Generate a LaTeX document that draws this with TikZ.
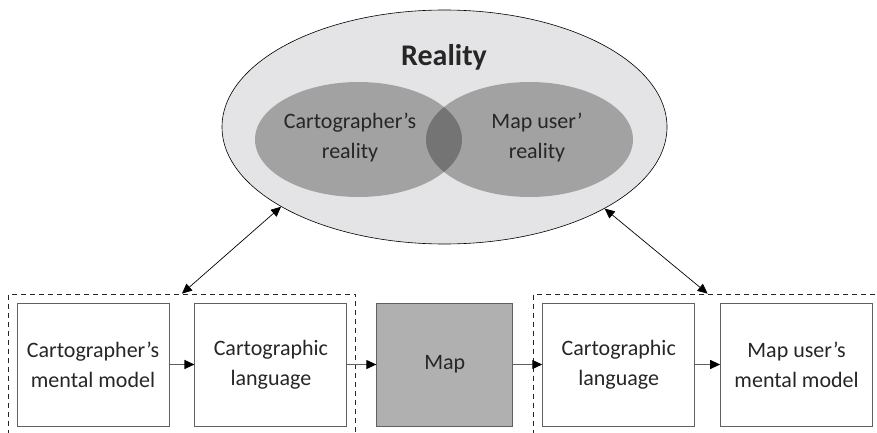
\documentclass[tikz,border=0pt]{standalone}
\usepackage{fontspec}
\setmainfont{Carlito}
\usetikzlibrary{shapes.geometric,arrows.meta,positioning,fit}

\definecolor{outerfill}{HTML}{E4E4E6}
\definecolor{innerfill}{HTML}{A2A2A2}
\definecolor{overlapfill}{HTML}{747474}
\definecolor{mapfill}{HTML}{B0B0B0}
\definecolor{boxline}{HTML}{606060}
\definecolor{textcol}{HTML}{262626}

\begin{document}
\begin{tikzpicture}[
  x=1pt, y=-1pt,
  node distance=25pt and 25pt,
  box/.style={draw=boxline, line width=0.9pt, minimum width=152pt, minimum height=123pt, inner sep=0pt, align=center, text=textcol, font=\fontsize{22}{30}\selectfont},
  lbl/.style={align=center, text=textcol, font=\fontsize{22}{30}\selectfont},
  arr/.style={-{Triangle[length=10pt,width=9pt,color=black]}, draw=boxline, line width=1.1pt},
  dbl/.style={{Triangle[length=10pt,width=9pt]}-{Triangle[length=10pt,width=9pt]}, line width=0.7pt},
  grp/.style={draw=black!85, line width=0.8pt, dash pattern=on 5pt off 4pt, inner sep=8.5pt}
]
  \clip (0,0) rectangle (877,433);

  % reality with the two overlapping views
  \node[ellipse, draw, line width=0.6pt, fill=outerfill, minimum width=445pt, minimum height=234pt, inner sep=0pt] (reality) at (444.5,127) {};
  \fill[innerfill] (358.5,139.5) ellipse [x radius=103.5, y radius=57.5];
  \fill[innerfill] (529.5,139.5) ellipse [x radius=103.5, y radius=57.5];
  \begin{scope}
    \clip (358.5,139.5) ellipse [x radius=103.5, y radius=57.5];
    \fill[overlapfill] (529.5,139.5) ellipse [x radius=103.5, y radius=57.5];
  \end{scope}
  \node[text=textcol, font=\fontsize{30}{36}\selectfont\bfseries] (title) at (444,57) {Reality};
  \node[lbl] (cartreal) at (350,138) {Cartographer’s\\reality};
  \node[lbl] (userreal) at (537,138) {Map user’\\reality};

  % communication chain
  \node[box] (cmodel) at (93,364.5) {Cartographer’s\\mental model};
  \node[box, right=of cmodel] (clang) {Cartographic\\language};
  \node[box, right=29pt of clang, minimum width=136pt, fill=mapfill] (map) {Map};
  \node[box, right=29pt of map] (ulang) {Cartographic\\language};
  \node[box, right=of ulang] (umodel) {Map user’s\\mental model};

  \node[grp, fit=(cmodel) (clang)] (lgroup) {};
  \node[grp, fit=(ulang) (umodel)] (rgroup) {};

  \draw[arr] (cmodel) -- (clang);
  \draw[arr] (clang) -- (map);
  \draw[arr] (map) -- (ulang);
  \draw[arr] (ulang) -- (umodel);

  \draw[dbl] (reality.206.5) -- (lgroup.north);
  \draw[dbl] (reality.333) -- (rgroup.north);
\end{tikzpicture}
\end{document}
